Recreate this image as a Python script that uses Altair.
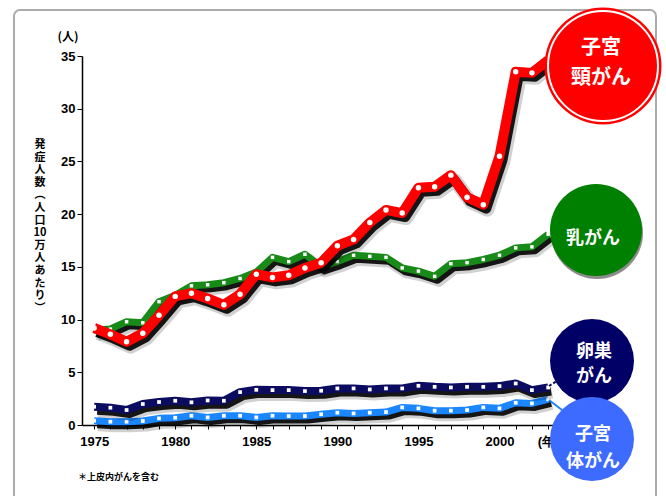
import altair as alt
import pandas as pd

years = list(range(1975, 2004))
cervical = [9.2, 8.6, 7.9, 8.7, 10.4, 12.2, 12.5, 12.0, 11.4, 12.4, 14.3, 14.0, 14.2, 14.9, 15.4,
            17.0, 17.6, 19.2, 20.4, 20.1, 22.5, 22.6, 23.7, 21.6, 20.9, 25.5, 33.5, 33.4, 34.6]
breast = [9.0, 9.1, 9.8, 9.7, 11.7, 12.3, 13.2, 13.3, 13.5, 13.9, 14.5, 15.9, 15.5, 16.2, 15.0,
          15.5, 16.1, 16.0, 15.9, 14.9, 14.6, 14.1, 15.3, 15.4, 15.7, 16.1, 16.8, 16.9, 18.1]
ovary = [1.73, 1.64, 1.42, 1.99, 2.18, 2.3, 2.15, 2.33, 2.3, 3.12, 3.34, 3.31, 3.31, 3.22, 3.25,
         3.47, 3.47, 3.37, 3.47, 3.47, 3.72, 3.62, 3.56, 3.62, 3.62, 3.69, 3.94, 3.31, 3.56]
corpus = [0.41, 0.31, 0.31, 0.38, 0.63, 0.69, 0.88, 0.72, 0.88, 0.88, 0.72, 0.88, 0.85, 0.85, 1.02,
          1.17, 1.1, 1.17, 1.23, 1.67, 1.58, 1.36, 1.36, 1.42, 1.67, 1.58, 2.11, 2.05, 2.43]

series_names = ["子宮体がん", "卵巣がん", "乳がん", "子宮頸がん"]
series_values = [corpus, ovary, breast, cervical]
line_colors = ["#1a86ff", "#0b0b60", "#178a17", "#ff0000"]
line_widths = [7, 8, 7, 10]
dot_shapes = ["square", "square", "square", "circle"]
dot_sizes = [14, 14, 12, 30]

y_title = ["発", "症", "人", "数", "︵", "人", "口", "10", "万", "人", "あ", "た", "り", "︶"]

W, H = 471, 369
L, T = 82, 56
FONT = "Liberation Sans Narrow, Liberation Sans, Arial, sans-serif"
JP = "Noto Sans CJK JP"

xscale = alt.Scale(domain=[1974.25, 2003.3], nice=False, zero=False)
yscale = alt.Scale(domain=[0, 35], nice=False)

xaxis = alt.Axis(values=years, tickSize=4, tickColor="black", domainColor="black", domainWidth=1.5,
                 labelExpr="datum.value % 5 == 0 ? '' + datum.value : (datum.value == 2003 ? '(年)' : '')",
                 labelOverlap=False, labelFlush=False, labelFont=FONT, labelFontSize=13,
                 labelFontWeight="bold", labelColor="black", labelPadding=6, grid=False, title=None)
yaxis = alt.Axis(values=[0, 5, 10, 15, 20, 25, 30, 35], tickSize=5, tickColor="black", domainWidth=1.5,
                 domainColor="black", labelFont=FONT, labelFontSize=13, labelFontWeight="bold",
                 labelColor="black", labelPadding=2, grid=False, title=None)

enc_x = alt.X("year:Q", scale=xscale, axis=xaxis)
enc_y = alt.Y("value:Q", scale=yscale, axis=yaxis)

layers = []
one = pd.DataFrame({"a": [0]})

# frame
layers.append(alt.Chart(one).mark_rect(
    fillOpacity=0, stroke="#ababab", strokeWidth=2, cornerRadius=6).encode(
    x=alt.value(14 - L), x2=alt.value(656 - L), y=alt.value(10 - T), y2=alt.value(530 - T)))

for name, vals, col, w, shp, sz in zip(series_names, series_values, line_colors, line_widths,
                                         dot_shapes, dot_sizes):
    df = pd.DataFrame({"year": years, "value": vals, "series": name})
    base = alt.Chart(df)
    layers.append(base.mark_line(color="black", strokeWidth=w + 4, opacity=0.18, xOffset=4, yOffset=5,
                                 strokeJoin="round").encode(x=enc_x, y=enc_y))
    layers.append(base.mark_line(color="black", strokeWidth=w, opacity=0.9, xOffset=3, yOffset=4,
                                 strokeJoin="round").encode(x=enc_x, y=enc_y))
    layers.append(base.mark_line(color=col, strokeWidth=w, strokeJoin="round").encode(x=enc_x, y=enc_y))
    layers.append(base.mark_point(shape=shp, filled=True, color="white", size=sz, opacity=1).encode(
        x=enc_x, y=enc_y))

# connectors
layers.append(alt.Chart(one).mark_rule(color="#0b0b60", strokeWidth=2, strokeDash=[3, 2]).encode(
    x=alt.value(549 - L), y=alt.value(386 - T), x2=alt.value(563 - L), y2=alt.value(377 - T)))
layers.append(alt.Chart(one).mark_rule(color="#1a86ff", strokeWidth=2).encode(
    x=alt.value(549 - L), y=alt.value(400 - T), x2=alt.value(562 - L), y2=alt.value(410 - T)))


def circle(cx, cy, d, fill, **kw):
    return alt.Chart(one).mark_point(shape="circle", filled=True, color=fill, size=d * d, opacity=1,
                                     **kw).encode(x=alt.value(cx - L), y=alt.value(cy - T))


def ring(cx, cy, d, col, w):
    return alt.Chart(one).mark_point(shape="circle", filled=False, color=col, size=d * d, opacity=1,
                                     strokeWidth=w).encode(x=alt.value(cx - L), y=alt.value(cy - T))


def label(txt, cx, cy, fs):
    return alt.Chart(one).mark_text(text=txt, font=JP, fontSize=fs, fontWeight="bold", color="white",
                                    align="center", baseline="middle").encode(
        x=alt.value(cx - L), y=alt.value(cy - T))


layers.append(circle(597, 233, 92, "black", fillOpacity=0.45))
layers.append(circle(603, 66, 117, "#ff0000"))
layers.append(ring(603, 66, 110, "white", 2))
layers.append(circle(596, 230, 92, "#008000"))
layers.append(circle(592, 361, 84, "#000066"))
layers.append(circle(592, 439, 84, "#3d6bff"))

layers.append(label("子宮", 601, 48, 20))
layers.append(label("頸がん", 601, 78, 20))
layers.append(label("乳がん", 593, 239, 18))
layers.append(label("卵巣", 594, 352, 18))
layers.append(label("がん", 594, 377, 18))
layers.append(label("子宮", 593, 435, 18))
layers.append(label("体がん", 593, 462, 18))

layers.append(alt.Chart(one).mark_text(text="(人)", font=JP, fontSize=12, fontWeight="bold",
                                       color="black", align="center", baseline="middle").encode(
    x=alt.value(68 - L), y=alt.value(37 - T)))
layers.append(alt.Chart(one).mark_text(text=y_title, font=JP, fontSize=11, fontWeight="bold",
                                       color="black", align="center", baseline="top",
                                       lineHeight=12.6).encode(
    x=alt.value(40 - L), y=alt.value(139 - T)))
layers.append(alt.Chart(one).mark_text(text="＊上皮内がんを含む", font=JP, fontSize=9, fontWeight="bold",
                                       color="black", align="left", baseline="middle").encode(
    x=alt.value(78 - L), y=alt.value(477 - T)))

chart = alt.layer(*layers).properties(
    width=W, height=H, autosize="none",
    padding={"left": L, "top": T, "right": 666 - L - W, "bottom": 496 - T - H},
    view=alt.ViewBackground(stroke="transparent", strokeWidth=0),
).configure_view(stroke="transparent", strokeWidth=0).configure(background="white")

chart.save("out.html", embed_options={"renderer": "svg", "actions": False})
